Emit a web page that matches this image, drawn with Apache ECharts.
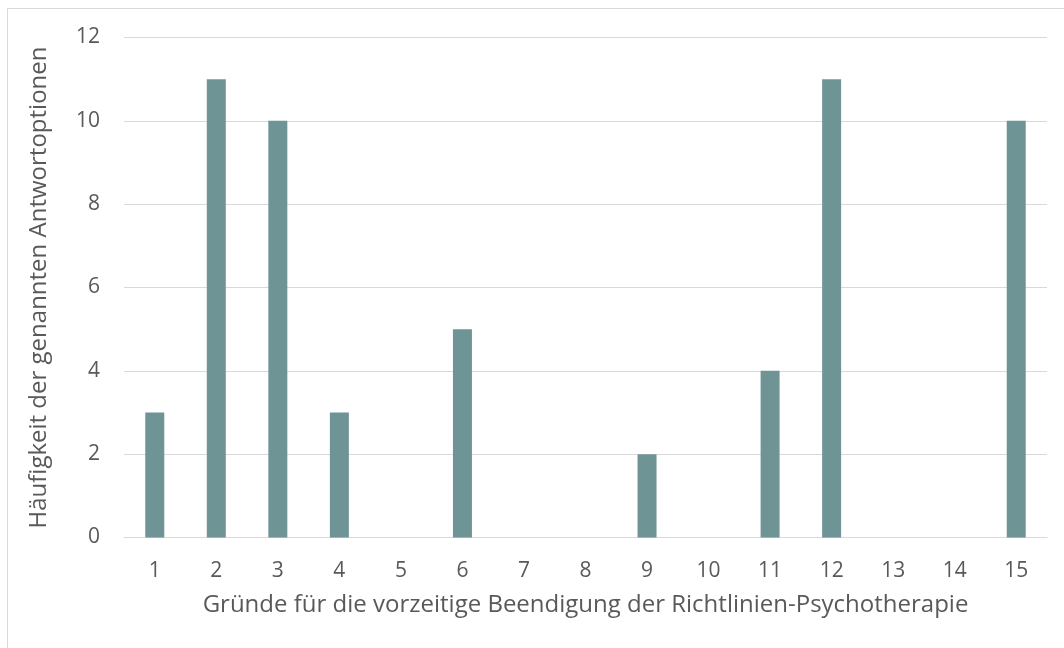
<!DOCTYPE html>
<html>
<head>
<meta charset="utf-8">
<script src="https://cdn.jsdelivr.net/npm/echarts@6/dist/echarts.min.js"></script>
<style>
  html, body { margin: 0; padding: 0; background: #ffffff; }
  #chart { width: 1064px; height: 648px; }
</style>
</head>
<body>
<div id="chart"></div>
<script>
// Reason categories 1..15 and how often each was named
const categories = ['1', '2', '3', '4', '5', '6', '7', '8', '9', '10', '11', '12', '13', '14', '15'];
const counts = [3, 11, 10, 3, 0, 5, 0, 0, 2, 0, 4, 11, 0, 0, 10];
const xTitle = 'Gründe für die vorzeitige Beendigung der Richtlinien-Psychotherapie';
const yTitle = 'Häufigkeit der genannten Antwortoptionen';

const textColor = '#595959';
const fontFamily = '"Open Sans", Roboto, sans-serif';

const chart = echarts.init(document.getElementById('chart'), null, { renderer: 'canvas' });
chart.setOption({
  animation: false,
  backgroundColor: '#ffffff',
  graphic: [{
    type: 'rect',
    shape: { x: 7.5, y: 8.5, width: 1070, height: 660 },
    style: { fill: 'none', stroke: '#d9d9d9', lineWidth: 1 },
    silent: true
  }],
  grid: { left: 124, right: 17, top: 37.5, bottom: 110.5, containLabel: false },
  xAxis: {
    type: 'category',
    data: categories,
    name: xTitle,
    nameLocation: 'middle',
    nameGap: 56,
    nameTextStyle: { color: textColor, fontSize: 24, fontFamily: fontFamily },
    axisLine: { show: true, lineStyle: { color: '#d9d9d9', width: 1 } },
    axisTick: { show: false },
    axisLabel: { color: textColor, fontSize: 21, fontFamily: fontFamily, margin: 23 }
  },
  yAxis: {
    type: 'value',
    min: 0,
    max: 12,
    interval: 2,
    name: yTitle,
    nameLocation: 'middle',
    nameGap: 73,
    nameRotate: 90,
    nameTextStyle: { color: textColor, fontSize: 24, fontFamily: fontFamily },
    axisLine: { show: false },
    axisTick: { show: false },
    axisLabel: { color: textColor, fontSize: 21, fontFamily: fontFamily, margin: 24 },
    splitLine: { lineStyle: { color: '#d9d9d9', width: 1 } }
  },
  series: [{
    type: 'bar',
    data: counts,
    barWidth: 19,
    itemStyle: { color: '#6f9496' }
  }]
});
</script>
</body>
</html>
